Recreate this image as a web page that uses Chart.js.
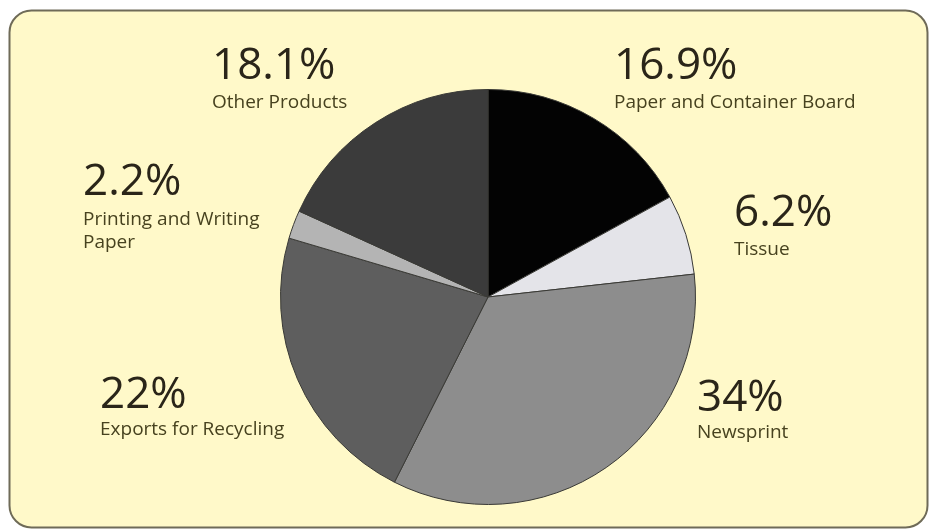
<!DOCTYPE html>
<html>
<head>
<meta charset="utf-8">
<script src="https://cdn.jsdelivr.net/npm/chart.js@4/dist/chart.umd.min.js"></script>
<style>
  html, body { margin: 0; padding: 0; background: #ffffff; }
  #wrap { width: 936px; height: 531px; position: relative; }
</style>
</head>
<body>
<div id="wrap"><canvas id="c" width="936" height="531"></canvas></div>
<script>
// ---- data ----
const categories = ["Paper and Container Board", "Tissue", "Newsprint", "Exports for Recycling", "Printing and Writing\nPaper", "Other Products"];
const values = [16.9, 6.2, 34, 22, 2.2, 18.1];

// ---- styles / layout ----
const sliceColors = ["#030303", "#e4e4e9", "#8d8d8d", "#5e5e5e", "#b4b4b4", "#3b3b3b"];
// [x, percent baseline, first label baseline]
const labelPlaces = [
  [614, 79, 108],
  [734, 226, 255],
  [697, 411, 438],
  [100, 408, 435],
  [83, 195, 225],
  [212, 79, 108]
];

const panelPlugin = {
  id: 'panel',
  beforeDraw(chart) {
    const ctx = chart.ctx;
    ctx.save();
    ctx.fillStyle = '#ffffff';
    ctx.fillRect(0, 0, chart.width, chart.height);
    const x = 9.5, y = 10.5, w = 918, h = 517, r = 22;
    ctx.beginPath();
    ctx.moveTo(x + r, y);
    ctx.lineTo(x + w - r, y);
    ctx.arcTo(x + w, y, x + w, y + r, r);
    ctx.lineTo(x + w, y + h - r);
    ctx.arcTo(x + w, y + h, x + w - r, y + h, r);
    ctx.lineTo(x + r, y + h);
    ctx.arcTo(x, y + h, x, y + h - r, r);
    ctx.lineTo(x, y + r);
    ctx.arcTo(x, y, x + r, y, r);
    ctx.closePath();
    ctx.fillStyle = '#fff9c9';
    ctx.fill();
    ctx.lineWidth = 2;
    ctx.strokeStyle = '#6f6b58';
    ctx.stroke();
    ctx.restore();
  }
};

const labelPlugin = {
  id: 'sliceLabels',
  afterDraw(chart) {
    const ctx = chart.ctx;
    ctx.save();
    ctx.textAlign = 'left';
    ctx.textBaseline = 'alphabetic';
    values.forEach((v, i) => {
      const [x, yp, yl] = labelPlaces[i];
      ctx.font = '44px "Open Sans", "Noto Sans", sans-serif';
      ctx.fillStyle = '#2a2519';
      ctx.fillText(v + '%', x, yp);
      ctx.font = '500 19px "Open Sans", "Noto Sans", sans-serif';
      ctx.fillStyle = '#47421f';
      categories[i].split('\n').forEach((line, k) => {
        ctx.fillText(line, x, yl + k * 23);
      });
    });
    ctx.restore();
  }
};

new Chart(document.getElementById('c'), {
  type: 'pie',
  data: {
    labels: categories.map(c => c.replace('\n', ' ')),
    datasets: [{
      data: values,
      backgroundColor: sliceColors,
      borderColor: '#3a3a36',
      borderWidth: 1
    }]
  },
  options: {
    responsive: false,
    animation: false,
    rotation: 0,
    layout: { padding: { left: 280, right: 240, top: 89, bottom: 26 } },
    plugins: {
      legend: { display: false },
      tooltip: { enabled: false },
      title: { display: false }
    }
  },
  plugins: [panelPlugin, labelPlugin]
});
</script>
</body>
</html>
